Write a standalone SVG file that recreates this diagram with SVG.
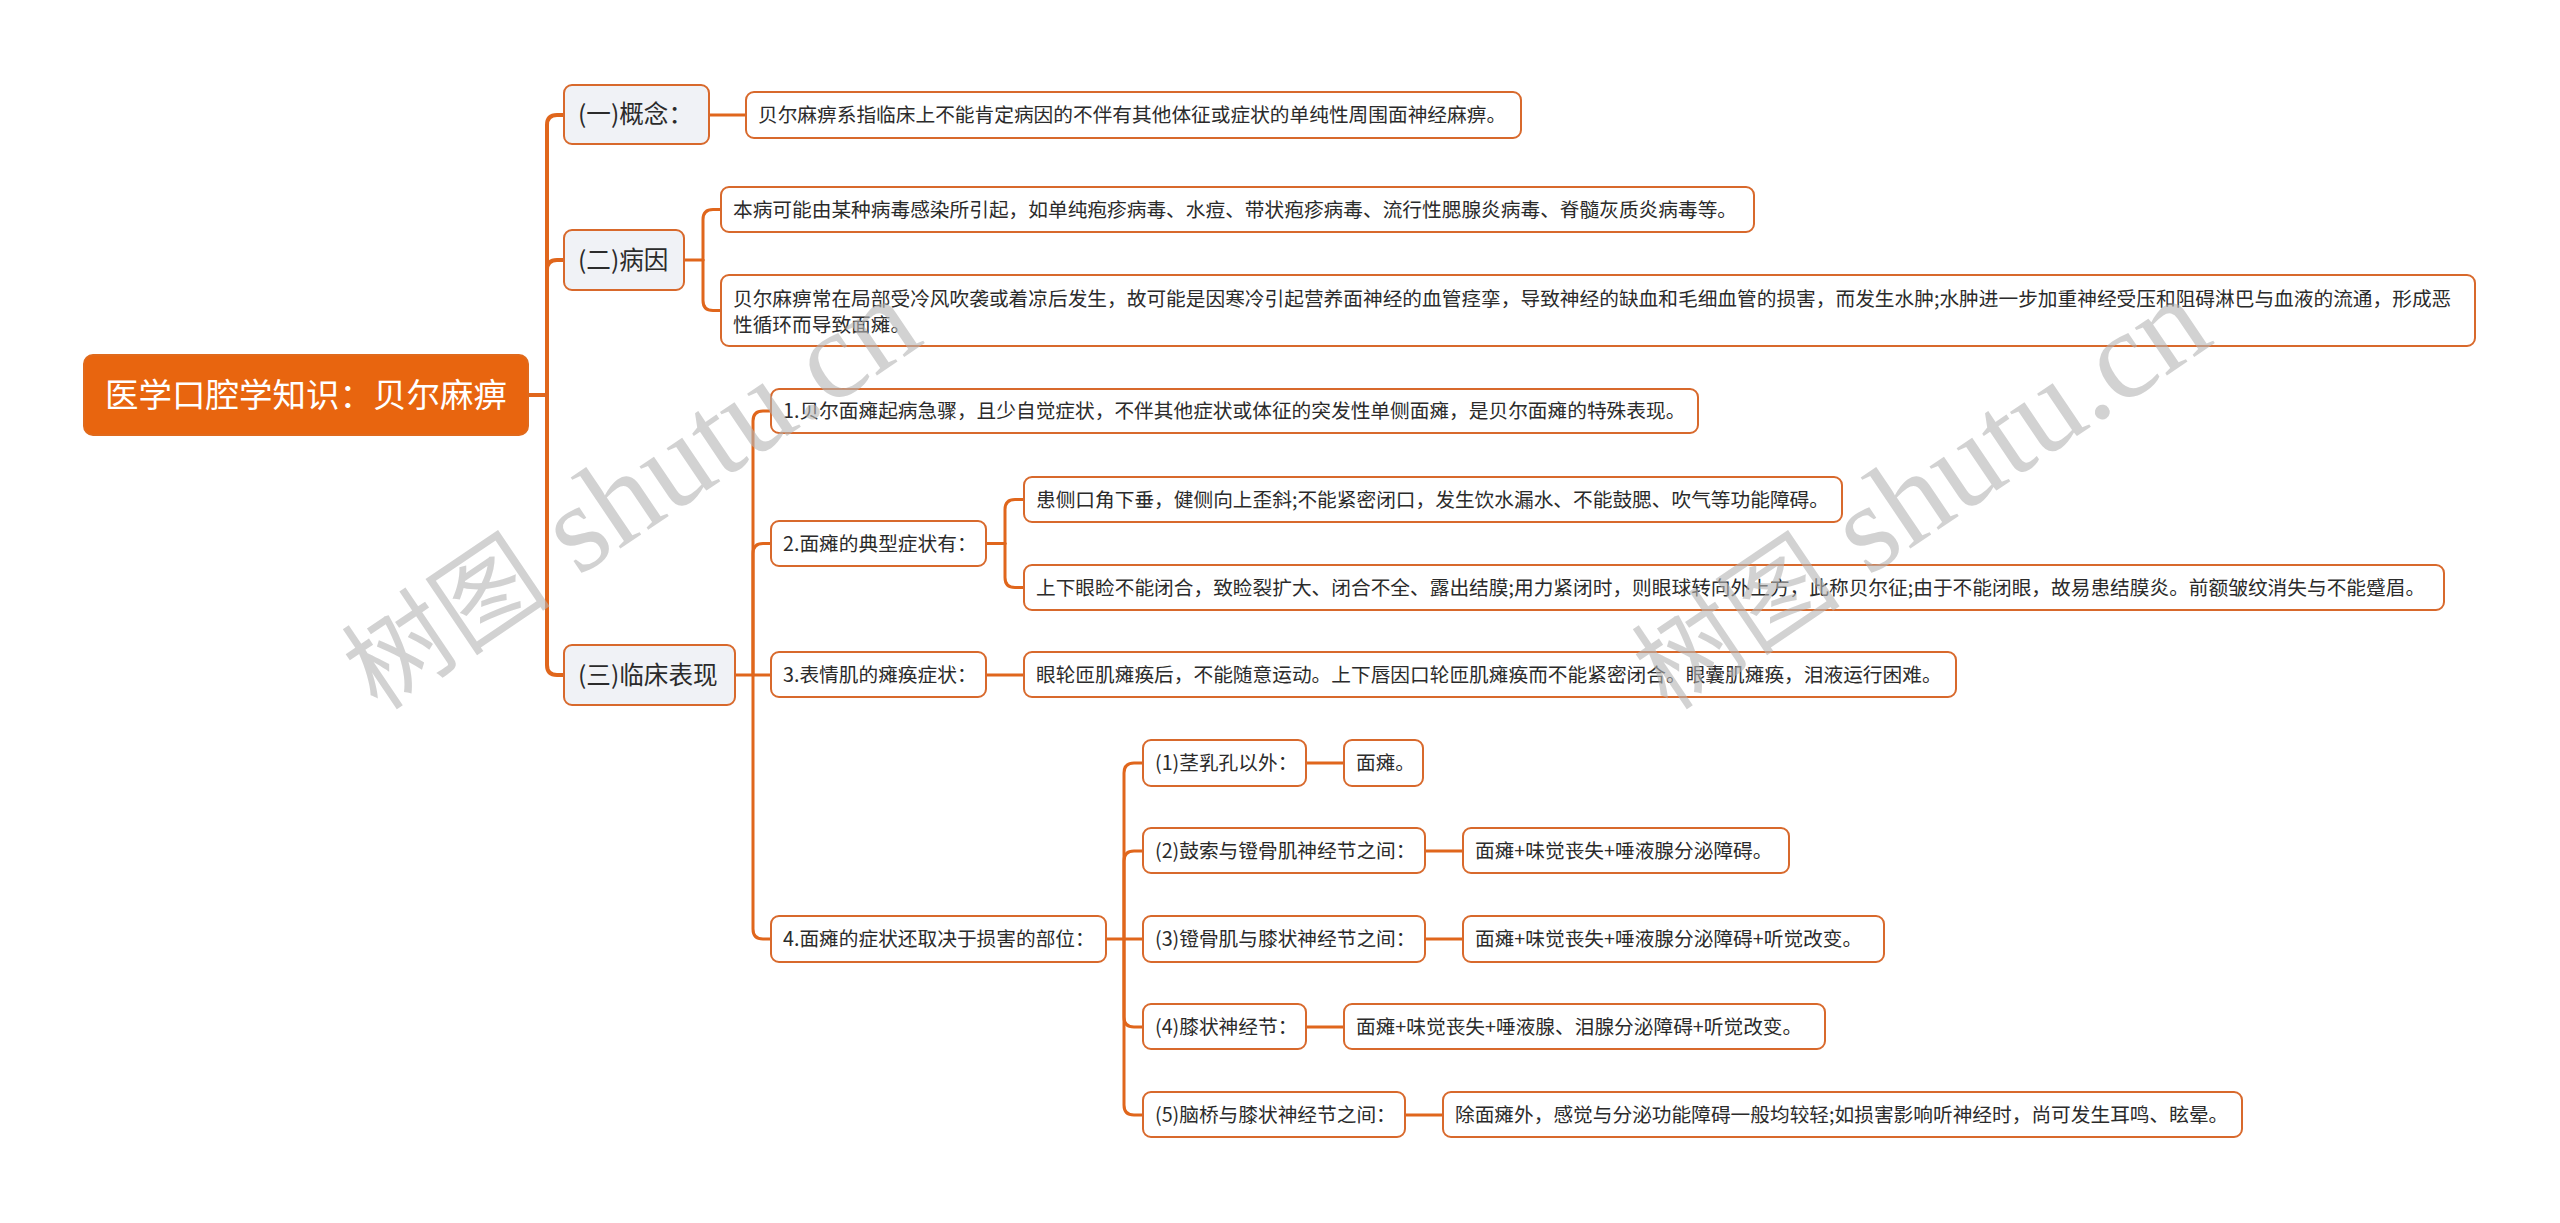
<svg xmlns="http://www.w3.org/2000/svg" width="2560" height="1223" viewBox="0 0 2560 1223">
<style>
text{font-family:"Noto Sans CJK SC","Noto Sans",sans-serif;fill:#2b2b2b}
.ln{fill:none;stroke:#e0661c;stroke-width:3;stroke-linecap:round}
.trunk{stroke-width:4}
.box{fill:#ffffff;stroke:#d8692c;stroke-width:2}
.l1{fill:#f0f2f6;stroke:#d8692c;stroke-width:2}
.root{fill:#e8650f;stroke:#e06a1c;stroke-width:2}
.t{font-size:19.7px}
.t1{font-size:24.6px}
.tr{font-size:33.5px;fill:#ffffff}
.wm{fill:#b5b5b5;opacity:0.6}
</style>
<rect width="2560" height="1223" fill="#ffffff"/>
<g id="connectors">
<path class="ln trunk" d="M528,395 H547"/>
<path class="ln trunk" d="M547,395 V125 Q547,115 557,115 H564"/>
<path class="ln trunk" d="M547,395 V270 Q547,260 557,260 H564"/>
<path class="ln trunk" d="M547,395 V665 Q547,675 557,675 H564"/>
<path class="ln" d="M709,115 H746"/>
<path class="ln" d="M684,260 H703"/>
<path class="ln" d="M703,260 V219.5 Q703,209.5 713,209.5 H721"/>
<path class="ln" d="M703,260 V300.5 Q703,310.5 713,310.5 H721"/>
<path class="ln" d="M735,675 H771"/>
<path class="ln" d="M753,675 V421 Q753,411 763,411 H771"/>
<path class="ln" d="M753,675 V553.5 Q753,543.5 763,543.5 H771"/>
<path class="ln" d="M753,675 V929 Q753,939 763,939 H771"/>
<path class="ln" d="M986,543.5 H1005"/>
<path class="ln" d="M1005,543.5 V509.5 Q1005,499.5 1015,499.5 H1024"/>
<path class="ln" d="M1005,543.5 V577.5 Q1005,587.5 1015,587.5 H1024"/>
<path class="ln" d="M986,675 H1024"/>
<path class="ln" d="M1106,939 H1143"/>
<path class="ln" d="M1124,939 V773 Q1124,763 1134,763 H1143"/>
<path class="ln" d="M1124,939 V861 Q1124,851 1134,851 H1143"/>
<path class="ln" d="M1124,939 V1017 Q1124,1027 1134,1027 H1143"/>
<path class="ln" d="M1124,939 V1105 Q1124,1115 1134,1115 H1143"/>
<path class="ln" d="M1306,763 H1344"/>
<path class="ln" d="M1425,851 H1463"/>
<path class="ln" d="M1425,939 H1463"/>
<path class="ln" d="M1306,1027 H1344"/>
<path class="ln" d="M1405,1115 H1443"/>
</g>
<g id="root"><rect class="root" x="84" y="355" width="444" height="80" rx="9"/><text class="tr" x="105" y="407">医学口腔学知识：贝尔麻痹</text></g>
<g id="c1"><rect class="l1" x="564" y="85" width="145" height="59" rx="8"/><text class="t1" x="578" y="123">(一)概念：</text></g>
<g id="c2"><rect class="l1" x="564" y="230" width="120" height="60" rx="8"/><text class="t1" x="578" y="268.5">(二)病因</text></g>
<g id="c3"><rect class="l1" x="564" y="645" width="171" height="60" rx="8"/><text class="t1" x="578" y="683.5">(三)临床表现</text></g>
<g id="n11"><rect class="box" x="746" y="92" width="775" height="46" rx="8"/><text class="t" x="758" y="122">贝尔麻痹系指临床上不能肯定病因的不伴有其他体征或症状的单纯性周围面神经麻痹。</text></g>
<g id="n21"><rect class="box" x="721" y="187" width="1033" height="45" rx="8"/><text class="t" x="733" y="216.5">本病可能由某种病毒感染所引起，如单纯疱疹病毒、水痘、带状疱疹病毒、流行性腮腺炎病毒、脊髓灰质炎病毒等。</text></g>
<g id="n22"><rect class="box" x="721" y="275" width="1754" height="71" rx="8"/><text class="t" x="733" y="306">贝尔麻痹常在局部受冷风吹袭或着凉后发生，故可能是因寒冷引起营养面神经的血管痉挛，导致神经的缺血和毛细血管的损害，而发生水肿;水肿进一步加重神经受压和阻碍淋巴与血液的流通，形成恶</text><text class="t" x="733" y="332">性循环而导致面瘫。</text></g>
<g id="n31"><rect class="box" x="771" y="389" width="927" height="44" rx="8"/><text class="t" x="783" y="418">1.贝尔面瘫起病急骤，且少自觉症状，不伴其他症状或体征的突发性单侧面瘫，是贝尔面瘫的特殊表现。</text></g>
<g id="n32"><rect class="box" x="771" y="521" width="215" height="45" rx="8"/><text class="t" x="783" y="550.5">2.面瘫的典型症状有：</text></g>
<g id="n321"><rect class="box" x="1024" y="477" width="818" height="45" rx="8"/><text class="t" x="1036" y="506.5">患侧口角下垂，健侧向上歪斜;不能紧密闭口，发生饮水漏水、不能鼓腮、吹气等功能障碍。</text></g>
<g id="n322"><rect class="box" x="1024" y="565" width="1420" height="45" rx="8"/><text class="t" x="1036" y="594.5">上下眼睑不能闭合，致睑裂扩大、闭合不全、露出结膜;用力紧闭时，则眼球转向外上方，此称贝尔征;由于不能闭眼，故易患结膜炎。前额皱纹消失与不能蹙眉。</text></g>
<g id="n33"><rect class="box" x="771" y="652" width="215" height="45" rx="8"/><text class="t" x="783" y="682">3.表情肌的瘫痪症状：</text></g>
<g id="n331"><rect class="box" x="1024" y="652" width="932" height="45" rx="8"/><text class="t" x="1036" y="682">眼轮匝肌瘫痪后，不能随意运动。上下唇因口轮匝肌瘫痪而不能紧密闭合。眼囊肌瘫痪，泪液运行困难。</text></g>
<g id="n34"><rect class="box" x="771" y="916" width="335" height="46" rx="8"/><text class="t" x="783" y="946">4.面瘫的症状还取决于损害的部位：</text></g>
<g id="a1"><rect class="box" x="1143" y="740" width="163" height="46" rx="8"/><text class="t" x="1155" y="770">(1)茎乳孔以外：</text></g>
<g id="a1c"><rect class="box" x="1344" y="740" width="79" height="46" rx="8"/><text class="t" x="1356" y="770">面瘫。</text></g>
<g id="a2"><rect class="box" x="1143" y="828" width="282" height="45" rx="8"/><text class="t" x="1155" y="858">(2)鼓索与镫骨肌神经节之间：</text></g>
<g id="a2c"><rect class="box" x="1463" y="828" width="326" height="45" rx="8"/><text class="t" x="1475" y="858">面瘫+味觉丧失+唾液腺分泌障碍。</text></g>
<g id="a3"><rect class="box" x="1143" y="916" width="282" height="46" rx="8"/><text class="t" x="1155" y="946">(3)镫骨肌与膝状神经节之间：</text></g>
<g id="a3c"><rect class="box" x="1463" y="916" width="421" height="46" rx="8"/><text class="t" x="1475" y="946">面瘫+味觉丧失+唾液腺分泌障碍+听觉改变。</text></g>
<g id="a4"><rect class="box" x="1143" y="1004" width="163" height="45" rx="8"/><text class="t" x="1155" y="1034">(4)膝状神经节：</text></g>
<g id="a4c"><rect class="box" x="1344" y="1004" width="481" height="45" rx="8"/><text class="t" x="1356" y="1034">面瘫+味觉丧失+唾液腺、泪腺分泌障碍+听觉改变。</text></g>
<g id="a5"><rect class="box" x="1143" y="1092" width="262" height="45" rx="8"/><text class="t" x="1155" y="1122">(5)脑桥与膝状神经节之间：</text></g>
<g id="a5c"><rect class="box" x="1443" y="1092" width="799" height="45" rx="8"/><text class="t" x="1455" y="1122">除面瘫外，感觉与分泌功能障碍一般均较轻;如损害影响听神经时，尚可发生耳鸣、眩晕。</text></g>
<g id="watermarks">
<text class="wm" transform="translate(378,712) rotate(-34)"><tspan style="font-size:105px">树图</tspan><tspan style="font-size:125px;font-family:'Liberation Serif',serif"> shutu.cn</tspan></text>
<text class="wm" transform="translate(1668,712) rotate(-34)"><tspan style="font-size:105px">树图</tspan><tspan style="font-size:125px;font-family:'Liberation Serif',serif"> shutu.cn</tspan></text>
</g>
</svg>
